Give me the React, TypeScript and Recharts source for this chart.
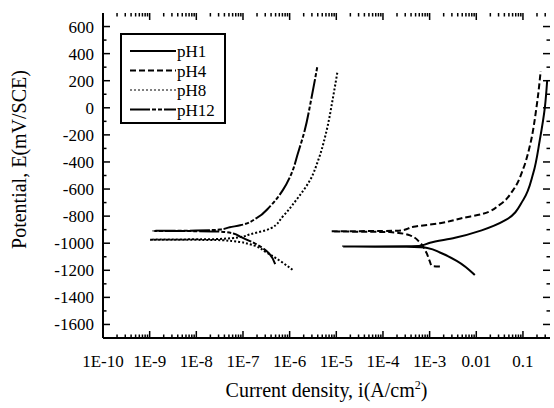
import React from 'react';
import { ComposedChart, Line, Scatter, XAxis, YAxis, Legend, Label } from 'recharts';

// current density (A/cm2) and potential (mV vs SCE), in sweep order
const pH1Current = [9.3e-3, 3.8e-3, 1.66e-3, 8.9e-4, 3.2e-4, 1.4e-5, 3.2e-4, 6.3e-4, 1.02e-3, 3.5e-3, 1.3e-2, 4.2e-2, 0.102, 0.166, 0.229, 0.295, 0.33];
const pH1Potential = [-1235, -1130, -1069, -1035, -1027, -1025, -1022, -1018, -996, -960, -905, -830, -679, -484, -241, 3, 198];

const pH4Current = [1.66e-3, 1.12e-3, 1.0e-3, 8.5e-4, 6.2e-4, 3.8e-4, 1.4e-4, 7.9e-6, 1.0e-4, 2.5e-4, 4.5e-4, 1.66e-3, 5.2e-3, 1.3e-2, 3.2e-2, 6.2e-2, 0.102, 0.141, 0.195, 0.24];
const pH4Potential = [-1172, -1168, -1130, -1069, -996, -942, -918, -912, -910, -905, -879, -852, -813, -785, -715, -606, -448, -280, 3, 271];

const pH8Current = [1.15e-6, 6.2e-7, 3.2e-7, 1.4e-7, 6.3e-8, 2.5e-8, 1.02e-9, 2.5e-8, 8.7e-8, 1.4e-7, 3.8e-7, 7.2e-7, 1.4e-6, 2.75e-6, 4.1e-6, 6.2e-6, 8.5e-6, 1.05e-5];
const pH8Potential = [-1196, -1130, -1069, -1008, -985, -976, -974, -970, -955, -935, -893, -801, -679, -533, -387, -168, 76, 259];

const pH12Current = [4.9e-7, 3.2e-7, 1.66e-7, 8.7e-8, 6.2e-8, 3.2e-8, 1.0e-8, 1.2e-9, 1.0e-8, 3.2e-8, 5.2e-8, 8.7e-8, 1.95e-7, 3.8e-7, 7.2e-7, 1.1e-6, 1.5e-6, 2.1e-6, 2.95e-6, 3.9e-6];
const pH12Potential = [-1154, -1057, -996, -952, -928, -914, -911, -909, -907, -899, -882, -868, -815, -728, -606, -484, -338, -168, 76, 300];

const xMajorTicks = [1e-10, 1e-9, 1e-8, 1e-7, 1e-6, 1e-5, 1e-4, 1e-3, 0.01, 0.1];
const xTickLabels = ['1E-10', '1E-9', '1E-8', '1E-7', '1E-6', '1E-5', '1E-4', '1E-3', '0.01', '0.1'];
const yMajorTicks = [-1600, -1400, -1200, -1000, -800, -600, -400, -200, 0, 200, 400, 600];

const X_DOMAIN: [number, number] = [1e-10, 0.38];
const Y_DOMAIN: [number, number] = [-1700, 700];
const FONT = "'Liberation Serif', 'Times New Roman', serif";

const toPoints = (cur: number[], pot: number[]) => cur.map((i, k) => ({ i, e: pot[k] }));

const series = [
  { name: 'pH1', data: toPoints(pH1Current, pH1Potential), dash: undefined, width: 2, legendWidth: 2 },
  { name: 'pH4', data: toPoints(pH4Current, pH4Potential), dash: '6 3', width: 2, legendWidth: 2 },
  { name: 'pH8', data: toPoints(pH8Current, pH8Potential), dash: '2 2', width: 2, legendWidth: 1 },
  { name: 'pH12', data: toPoints(pH12Current, pH12Potential), dash: '20 2 4 2 4 2', width: 2, legendWidth: 2 },
];

// minor ticks at 2..9 of each decade, inside the domain
const xMinorTicks: number[] = [];
xMajorTicks.forEach((m) => {
  for (let k = 2; k <= 9; k++) {
    if (m * k <= X_DOMAIN[1]) xMinorTicks.push(m * k);
  }
});
const yMinorTicks: number[] = [];
for (let v = Y_DOMAIN[0] + 200; v < Y_DOMAIN[1]; v += 200) yMinorTicks.push(v);

const MAJOR = 7;
const MINOR = 3.5;

// inward tick marks, placed through the chart scales as tiny scatter marks
const xTickMarks = [
  ...xMajorTicks.slice(1).map((v) => ({ v, len: MAJOR })),
  ...xMinorTicks.map((v) => ({ v, len: MINOR })),
];
const yTickMarks = [...yMajorTicks.map((v) => ({ v, len: MAJOR })), ...yMinorTicks.map((v) => ({ v, len: MINOR }))];
const bottomMarks = xTickMarks.map((t) => ({ i: t.v, e: Y_DOMAIN[0], len: t.len, dx: 0, dy: -1 }));
const topMarks = xTickMarks.map((t) => ({ i: t.v, e: Y_DOMAIN[1], len: t.len, dx: 0, dy: 1 }));
const leftMarks = yTickMarks.map((t) => ({ i: X_DOMAIN[0], e: t.v, len: t.len, dx: 1, dy: 0 }));
const rightMarks = yTickMarks.map((t) => ({ i: X_DOMAIN[1], e: t.v, len: t.len, dx: -1, dy: 0 }));

const TickMark = (props: any) => {
  const { cx, cy, payload } = props;
  if (cx == null || cy == null) return <g />;
  const { len, dx, dy } = payload;
  return <line x1={cx} y1={cy} x2={cx + dx * len} y2={cy + dy * len} stroke="#000" strokeWidth={1.5} />;
};

const xLabelOf = (v: number) => {
  const idx = xMajorTicks.findIndex((m) => Math.abs(Math.log10(m) - Math.log10(v)) < 1e-6);
  return idx >= 0 ? xTickLabels[idx] : '';
};

const tickFont = { fontFamily: FONT, fontSize: 17, fill: '#000' };

const LegendBox = () => (
  <svg width={106} height={91} style={{ display: 'block' }}>
    <rect x={1} y={1} width={104} height={89} fill="#fff" stroke="#000" strokeWidth={2} />
    {series.map((s, k) => {
      const cy = 18 + k * 19.5;
      return (
        <g key={s.name}>
          <line x1={10} x2={56} y1={cy} y2={cy} stroke="#000" strokeWidth={s.legendWidth} strokeDasharray={s.dash} />
          <text x={57} y={cy + 6} fontFamily={FONT} fontSize={17} fill="#000">
            {s.name}
          </text>
        </g>
      );
    })}
  </svg>
);

const frame = { stroke: '#000', strokeWidth: 2 };

const App: React.FC = () => {
  return (
    <div style={{ position: 'absolute', left: 0, top: 0, background: '#fff' }}>
      <ComposedChart width={554} height={408} margin={{ top: 13, right: 4, bottom: 0, left: 0 }}>
        <XAxis
          xAxisId="b"
          dataKey="i"
          type="number"
          scale="log"
          domain={X_DOMAIN}
          allowDataOverflow
          ticks={xMajorTicks}
          interval={0}
          tickSize={0}
          tickMargin={17}
          tickLine={false}
          axisLine={frame}
          tick={tickFont}
          tickFormatter={xLabelOf}
          height={70}
        >
          <Label
            content={(p: any) => {
              const vb = p.viewBox;
              return (
                <text x={vb.x + vb.width / 2} y={vb.y + 59} textAnchor="middle" fontFamily={FONT} fontSize={20} fill="#000">
                  Current density, i(A/cm
                  <tspan dy={-8} fontSize={12}>2</tspan>
                  <tspan dy={8}>)</tspan>
                </text>
              );
            }}
          />
        </XAxis>
        <XAxis
          xAxisId="t"
          orientation="top"
          dataKey="i"
          type="number"
          scale="log"
          domain={X_DOMAIN}
          allowDataOverflow
          ticks={xMajorTicks}
          tick={false}
          tickLine={false}
          axisLine={frame}
          height={0}
        />
        <YAxis
          yAxisId="l"
          type="number"
          domain={Y_DOMAIN}
          allowDataOverflow
          ticks={yMajorTicks}
          interval={0}
          tickSize={0}
          tickMargin={9}
          tickLine={false}
          axisLine={frame}
          tick={tickFont}
          width={103}
        >
          <Label
            content={(p: any) => {
              const vb = p.viewBox;
              const cx = 19;
              const cy = vb.y + vb.height / 2 - 16;
              return (
                <text
                  x={cx}
                  y={cy}
                  transform={`rotate(-90 ${cx} ${cy})`}
                  textAnchor="middle"
                  dominantBaseline="central"
                  fontFamily={FONT}
                  fontSize={20}
                  fill="#000"
                >
                  Potential, E(mV/SCE)
                </text>
              );
            }}
          />
        </YAxis>
        <YAxis
          yAxisId="r"
          orientation="right"
          type="number"
          domain={Y_DOMAIN}
          allowDataOverflow
          ticks={yMajorTicks}
          tick={false}
          tickLine={false}
          axisLine={frame}
          width={0}
        />
        <Legend
          layout="vertical"
          align="center"
          verticalAlign="middle"
          content={() => <LegendBox />}
          wrapperStyle={{ left: 120, top: 33, width: 106, height: 91 }}
        />
        {series.map((s) => (
          <Line
            key={s.name}
            name={s.name}
            data={s.data}
            dataKey="e"
            xAxisId="b"
            yAxisId="l"
            type="monotoneY"
            stroke="#000"
            strokeWidth={s.width}
            strokeDasharray={s.dash}
            dot={false}
            activeDot={false}
            isAnimationActive={false}
          />
        ))}
        {[bottomMarks, topMarks, leftMarks, rightMarks].map((marks, k) => (
          <Scatter
            key={`ticks${k}`}
            data={marks}
            dataKey="e"
            xAxisId="b"
            yAxisId="l"
            shape={TickMark}
            legendType="none"
            isAnimationActive={false}
          />
        ))}
      </ComposedChart>
    </div>
  );
};

export default App;
